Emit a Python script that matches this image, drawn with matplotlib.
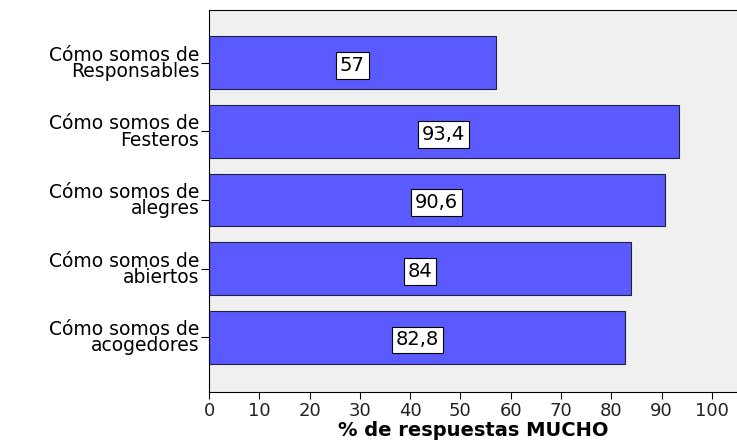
import matplotlib
matplotlib.use("Agg")
from matplotlib import pyplot as plt

categorias = ["Cómo somos de\nResponsables", "Cómo somos de\nFesteros",
              "Cómo somos de\nalegres", "Cómo somos de\nabiertos",
              "Cómo somos de\nacogedores"]
valores = [57, 93.4, 90.6, 84, 82.8]
etiquetas = ["57", "93,4", "90,6", "84", "82,8"]

plt.rcParams['font.family'] = ['DejaVu Sans']

fig = plt.figure(figsize=(7.37, 4.44), dpi=100)
ax = fig.add_axes([0.2836, 0.117, 0.7164, 0.8605])
ax.set_facecolor('#f0f0f0')

pos = list(range(len(valores)))
ax.barh(pos, valores, height=0.77, color='#5a5aff', edgecolor='#202040', linewidth=0.8)

for p, v, t in zip(pos, valores, etiquetas):
    ax.text(v / 2, p + 0.04, t, ha='center', va='center', fontsize=14,
            bbox=dict(boxstyle='square,pad=0.2', facecolor='white', edgecolor='black', linewidth=0.8))

ax.set_ylim(4.8, -0.77)
ax.set_xlim(0, 105)
ax.set_yticks(pos)
ax.set_yticklabels(categorias, fontsize=13.5, ha='right', linespacing=0.82)
ax.set_xticks(range(0, 101, 10))
ax.tick_params(axis='x', labelsize=13, length=5, color='black', labelcolor='#222222', pad=2)
ax.tick_params(axis='y', length=6, pad=1)

for s in ['right']:
    ax.spines[s].set_visible(False)
for s in ['left', 'bottom', 'top']:
    ax.spines[s].set_color('black')
    ax.spines[s].set_linewidth(0.8)

ax.set_xlabel("% de respuestas MUCHO", fontsize=14, fontweight='bold', labelpad=1)

fig.savefig("out.png", dpi=100, facecolor='white')
